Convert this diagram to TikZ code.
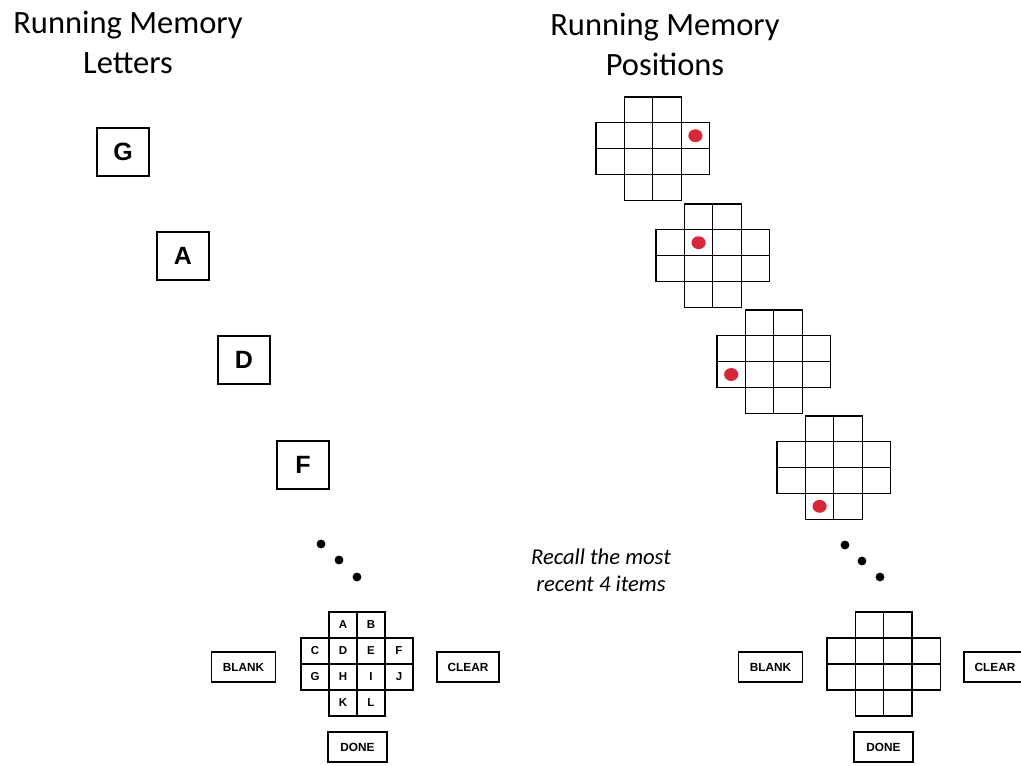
\documentclass[tikz,border=0pt]{standalone}
\usepackage{fontspec}
\setmainfont{Carlito}
\newfontfamily\boxfont{Liberation Sans}
\usepackage{tikz}
\usetikzlibrary{calc}

\definecolor{dotred}{RGB}{214,40,57}

% one cross shaped answer grid, in cell units
\newcommand{\crossgrid}{%
  \foreach \c/\r in {1/0,2/0,0/1,1/1,2/1,3/1,0/2,1/2,2/2,3/2,1/3,2/3}
    \draw[cell] (\c,\r) rectangle ++(1,1);}

\begin{document}
\begin{tikzpicture}[x=1pt, y=-1pt,
    cell/.style={line width=1.2pt},
    letterbox/.style={draw, line width=1.2pt, minimum width=52pt, minimum height=48pt,
      inner sep=0pt, font=\boxfont\bfseries\fontsize{25}{25}\selectfont},
    button/.style={draw, line width=1.2pt, minimum width=64pt, minimum height=30pt,
      inner sep=0pt, font=\boxfont\bfseries\fontsize{11.8}{11.8}\selectfont},
    keyletter/.style={font=\boxfont\bfseries\fontsize{11.5}{11.5}\selectfont, inner sep=0pt},
    title/.style={align=center, font=\fontsize{32.5}{40}\selectfont},
    reddot/.style={fill=dotred}]
    \useasboundingbox (0,0) rectangle (1021,766);

    % titles
    \node[title] (titleL) at (128,42) {Running Memory\\Letters};
    \node[title] (titleR) at (665,44) {Running Memory\\Positions};

    % letters shown one after another
    \node[letterbox] (lG) at (123,152) {G};
    \node[letterbox] (lA) at (183,256) {A};
    \node[letterbox] (lD) at (244,360) {D};
    \node[letterbox] (lF) at (303,465) {F};

    \fill (321,544) circle (4.4);
    \fill (339,560) circle (4.4);
    \fill (357,577) circle (4.4);

    % positions shown one after another
    \foreach \n/\gx/\gy/\dc/\dr in {1/596/97/3/1, 2/656/204/1/1, 3/717/310/0/2, 4/777/416/1/3} {
      \begin{scope}[shift={(\gx,\gy)}, x=28.4pt, y=-25.8pt]
        \crossgrid
        \fill[reddot] (\dc+0.5,\dr+0.5) circle (0.25);
      \end{scope}
    }

    \fill (845,545) circle (4.4);
    \fill (862,561) circle (4.4);
    \fill (880,577) circle (4.4);

    \node[align=center, font=\itshape\fontsize{22.6}{27}\selectfont] (recall) at (601,570)
      {Recall the most\\recent 4 items};

    % letter response screen
    \begin{scope}[shift={(301,612)}, x=28pt, y=-26pt]
      \crossgrid
      \foreach \c/\r/\l in {1/0/A,2/0/B,0/1/C,1/1/D,2/1/E,3/1/F,0/2/G,1/2/H,2/2/I,3/2/J,1/3/K,2/3/L}
        \node[keyletter] (k\l) at (\c+0.5,\r+0.5) {\l};
    \end{scope}
    \node[button] (blankL) at (243.5,667) {BLANK};
    \node[button, minimum width=62pt] (clearL) at (468,667) {CLEAR};
    \node[button, minimum width=59pt] (doneL) at (357.5,747) {DONE};

    % position response screen
    \begin{scope}[shift={(827,612)}, x=28.3pt, y=-26pt]
      \crossgrid
    \end{scope}
    \node[button] (blankP) at (770.5,667) {BLANK};
    \node[button, minimum width=62pt] (clearP) at (995,667) {CLEAR};
    \node[button, minimum width=59pt] (doneP) at (883.5,747) {DONE};
\end{tikzpicture}
\end{document}
